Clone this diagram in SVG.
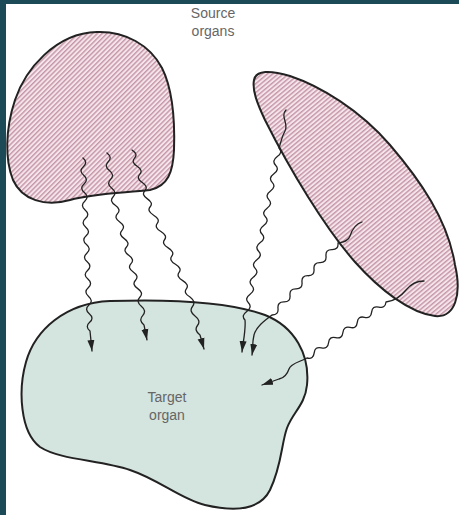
<svg xmlns="http://www.w3.org/2000/svg" width="459" height="515" viewBox="0 0 459 515">
<style>
.organ{stroke:#222;stroke-width:2;stroke-linejoin:round}
.wave{fill:none;stroke:#222;stroke-width:1.3;stroke-linejoin:round;stroke-linecap:round}
.arr{marker-end:url(#ah)}
.lbl{font-family:"Liberation Sans",Arial,sans-serif;font-size:14px;fill:#666;text-anchor:middle}
</style>
<defs>
<pattern id="hatchL" patternUnits="userSpaceOnUse" width="3.4" height="10" patternTransform="rotate(45)">
<rect width="3.4" height="10" fill="#f5e4ea"/>
<rect width="1.4" height="10" fill="#c596a8"/>
</pattern>
<pattern id="hatchR" patternUnits="userSpaceOnUse" width="3.4" height="10" patternTransform="rotate(50)">
<rect width="3.4" height="10" fill="#f5e4ea"/>
<rect width="1.4" height="10" fill="#c596a8"/>
</pattern>
<marker id="ah" markerUnits="userSpaceOnUse" markerWidth="13" markerHeight="9" refX="11" refY="4" orient="auto">
<path d="M0,0.5 L11,4 L0,7.5 Z" fill="#222"/>
</marker>
</defs>
<rect width="459" height="515" fill="#ffffff"/>
<rect x="0" y="0" width="6" height="515" fill="#1c4b57"/>
<rect x="0" y="0" width="459" height="4" fill="#1c4b57"/>

<g id="target-organ">
<path class="organ" fill="#d4e4de" d="M110,301 C170,299 230,302 265,315 C295,327 310,355 307,385 C305,405 293,412 287,428 C281,445 282,465 270,490 C260,510 235,512 205,505 C180,499 160,480 130,470 C100,460 60,460 40,447 C20,432 18,390 26,362 C35,330 65,303 110,301 Z"/>
<text class="lbl" x="167" y="402">Target</text>
<text class="lbl" x="167" y="420">organ</text>
</g>

<g id="source-organ-left">
<path class="organ" fill="url(#hatchL)" d="M97,32 C125,31 150,45 162,68 C172,88 175,120 174,150 C173,172 168,186 150,190 C125,193 95,193 70,200 C45,207 22,200 13,180 C5,160 5,130 15,100 C25,70 55,33 97,32 Z"/>
</g>

<g id="source-organ-right">
<path class="organ" fill="url(#hatchR)" d="M254,80 C256,70 270,70 290,76 C320,86 360,110 390,145 C420,180 448,220 455,265 C462,295 455,318 435,316 C410,313 380,290 355,262 C325,228 290,170 265,120 C257,103 252,90 254,80 Z"/>
</g>

<g id="source-label">
<text class="lbl" x="213" y="18">Source</text>
<text class="lbl" x="213" y="36">organs</text>
</g>

<g id="connectors">
<path class="wave arr" d="M83,158 q5.18,4.33 0.35,8.65 t0.35,8.65 t0.35,8.65 t0.35,8.65 t0.35,8.65 t0.35,8.65 t0.35,8.65 t0.35,8.65 t0.35,8.65 t0.35,8.65 t0.35,8.65 t0.35,8.65 t0.35,8.65 t0.35,8.65 t0.35,8.65 t0.35,8.65 t0.35,8.65 t0.35,8.65 t0.35,8.65 t0.35,8.65 l2,20"/>
<path class="wave arr" d="M107,153 q5.6,4.4 1.2,8.8 t1.2,8.8 t1.2,8.8 t1.2,8.8 t1.2,8.8 q-3.88,4.17 2.25,8.33 t2.25,8.33 t2.25,8.33 t2.25,8.33 t2.25,8.33 t2.25,8.33 t2.25,8.33 t2.25,8.33 t2.25,8.33 t2.25,8.33 t2.25,8.33 t2.25,8.33 q-4.33,4.67 1.33,9.33 t1.33,9.33 t1.33,9.33 l3,15"/>
<path class="wave arr" d="M132,150 q6.29,4.07 2.571,8.143 t2.571,8.143 t2.571,8.143 t2.571,8.143 t2.571,8.143 t2.571,8.143 t2.571,8.143 q-3.18,4.09 3.636,8.182 t3.636,8.182 t3.636,8.182 t3.636,8.182 t3.636,8.182 t3.636,8.182 t3.636,8.182 t3.636,8.182 t3.636,8.182 t3.636,8.182 t3.636,8.182 q6.25,4.75 2.5,9.5 t2.5,9.5 t2.5,9.5 t2.5,9.5 l4,14"/>
<path class="wave arr" d="M286,110 C280,116 289,124 285,131 S281,143 279,148 q4.15,4.3 -1.7,8.6 t-1.7,8.6 t-1.7,8.6 t-1.7,8.6 t-1.7,8.6 t-1.7,8.6 t-1.7,8.6 t-1.7,8.6 t-1.7,8.6 t-1.7,8.6 t-1.7,8.6 t-1.7,8.6 t-1.7,8.6 t-1.7,8.6 t-1.7,8.6 t-1.7,8.6 t-1.7,8.6 t-1.7,8.6 t-1.7,8.6 t-1.7,8.6 c1,10 -2,22 -3,32"/>
<path class="wave arr" d="M362,222 C355,224 352,230 350,236 S342,242 338,243 q0.69,6.65 -6,6.545 t-6,6.545 t-6,6.545 t-6,6.545 t-6,6.545 t-6,6.545 t-6,6.545 t-6,6.545 t-6,6.545 t-6,6.545 t-6,6.545 c-8,6 -16,12 -18,20 s-1,14 -2,20"/>
<path class="wave arr" d="M424,281 C416,281 410,285 406,290 S395,301 386,302 q-0.7,6.63 -7.182,5.091 t-7.182,5.091 t-7.182,5.091 t-7.182,5.091 t-7.182,5.091 t-7.182,5.091 t-7.182,5.091 t-7.182,5.091 t-7.182,5.091 t-7.182,5.091 t-7.182,5.091 C300,362 291,363 289,369 S284,378 279,379 L262,385"/>
</g>
</svg>
